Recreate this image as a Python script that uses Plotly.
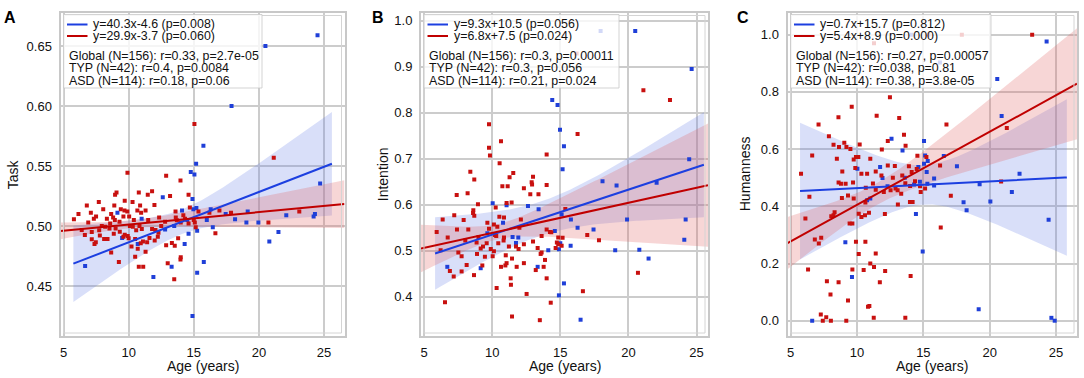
import numpy as np
import plotly.graph_objects as go

W, H = 1084, 378
FONT = "Liberation Sans, Arial, Helvetica, sans-serif"

# ---------------- data ----------------
# Panel A : Task
a_typ_age = [15.74, 15.18, 14.77, 15.05, 12.62, 14.9, 9.14, 14.97, 14.1, 11.0,
             16.3, 17.45, 18.17, 19.14, 19.04, 19.96, 22.1, 24.2, 24.3, 24.7,
             21.5, 20.8, 16.46, 15.26, 14.6, 14.3, 10.7, 13.3, 11.9, 6.66,
             15.77, 15.26, 14.9, 17.9, 20.5, 24.5, 12.8, 14.5, 13.5, 15.2, 9.5, 16.0]
a_typ_val = [0.567, 0.552, 0.545, 0.543, 0.524, 0.5225, 0.511, 0.514, 0.513, 0.506,
             0.514, 0.510, 0.5056, 0.512, 0.503, 0.503, 0.509, 0.508, 0.510, 0.5355,
             0.495, 0.487, 0.499, 0.496, 0.4936, 0.485, 0.485, 0.466, 0.4575, 0.4667,
             0.470, 0.461, 0.425, 0.600, 0.650, 0.659, 0.497, 0.505, 0.500, 0.515, 0.490, 0.505]
a_asd_age = [15.05, 21.14, 9.91, 12.88, 13.98, 9.07, 8.96, 10.78, 11.8, 11.47,
             13.18, 14.6, 7.71, 9.7, 10.3, 6.79, 8.05, 9.4, 9.68, 10.88,
             10.67, 11.3, 10.96, 11.98, 13.6, 14.7, 15.36, 16.2, 16.97, 17.86,
             23.1, 20.73, 6.15, 5.8, 7.33, 7.1, 8.66, 8.94, 9.3, 10.04,
             10.1, 9.6, 9.9, 8.81, 8.33, 7.94, 8.2, 8.58, 8.53, 7.74,
             7.17, 6.4, 6.64, 8.86, 9.32, 9.7, 9.93, 10.32, 10.58, 10.83,
             11.01, 11.8, 12.06, 12.34, 12.29, 12.24, 12.8, 12.88, 13.32, 13.54,
             13.7, 13.62, 14.0, 14.33, 14.6, 15.0, 15.15, 13.8, 14.0, 13.98,
             13.0, 13.5, 10.5, 10.78, 11.12, 9.25, 8.66, 10.22, 10.7, 11.1,
             11.3, 10.93, 11.42, 7.38, 7.48, 7.17, 7.79, 8.12, 8.38, 9.6,
             10.0, 10.5, 11.6, 16.66, 15.08, 6.9, 8.9, 12.5, 11.5, 9.0,
             12.0, 14.2, 7.5, 10.4]
a_asd_val = [0.585, 0.557, 0.5444, 0.542, 0.538, 0.528, 0.526, 0.528, 0.529, 0.526,
             0.525, 0.526, 0.520, 0.521, 0.520, 0.517, 0.514, 0.514, 0.513, 0.517,
             0.513, 0.513, 0.511, 0.5175, 0.512, 0.5155, 0.512, 0.511, 0.513, 0.511,
             0.512, 0.503, 0.510, 0.5056, 0.506, 0.511, 0.510, 0.505, 0.5036, 0.508,
             0.500, 0.508, 0.512, 0.507, 0.506, 0.500, 0.4994, 0.502, 0.498, 0.4964,
             0.495, 0.4967, 0.4925, 0.4936, 0.4953, 0.4928, 0.4917, 0.4994, 0.4964, 0.500,
             0.4975, 0.4975, 0.4967, 0.507, 0.4944, 0.491, 0.5036, 0.484, 0.4858, 0.4836,
             0.5047, 0.507, 0.503, 0.506, 0.502, 0.505, 0.499, 0.4897, 0.474, 0.472,
             0.469, 0.4556, 0.4744, 0.466, 0.466, 0.470, 0.478, 0.483, 0.481, 0.487,
             0.4786, 0.4856, 0.4864, 0.485, 0.4864, 0.4889, 0.492, 0.4892, 0.4892, 0.491,
             0.4897, 0.4892, 0.490, 0.494, 0.503, 0.503, 0.517, 0.500, 0.505, 0.498,
             0.488, 0.509, 0.508, 0.505]

# Panel B : Intention
b_typ_age = [14.98, 15.27, 15.17, 18.1, 19.13, 22.07, 24.46, 24.2, 24.1, 19.9,
             15.78, 16.27, 17.44, 15.1, 13.41, 12.63, 11.06, 10.04, 10.8, 9.65,
             11.92, 11.75, 14.6, 15.0, 15.76, 14.9, 14.12, 19.03, 20.8, 21.48,
             13.34, 9.16, 6.71, 15.27, 14.9, 16.49, 17.96, 20.5, 24.64, 14.41, 14.8, 11.5]
b_typ_val = [0.763, 0.727, 0.677, 0.651, 0.642, 0.648, 0.699, 0.568, 0.524, 0.568,
             0.568, 0.550, 0.546, 0.579, 0.590, 0.597, 0.599, 0.603, 0.561, 0.538,
             0.529, 0.517, 0.543, 0.516, 0.511, 0.503, 0.501, 0.501, 0.502, 0.483,
             0.465, 0.462, 0.465, 0.429, 0.403, 0.350, 0.978, 0.978, 0.895, 0.828, 0.817, 0.530]
b_asd_age = [9.77, 16.2, 21.1, 23.05, 16.27, 9.77, 9.84, 10.65, 14.0, 10.55,
             11.55, 8.4, 8.69, 11.28, 11.14, 10.75, 13.0, 12.9, 12.93, 12.33,
             14.0, 12.8, 13.4, 7.4, 8.2, 8.96, 8.62, 8.69, 8.6, 10.26,
             11.06, 11.43, 15.37, 6.37, 7.22, 7.91, 8.25, 9.65, 9.77, 10.13,
             10.38, 10.53, 10.87, 10.87, 12.11, 10.2, 7.42, 6.74, 5.93, 6.22,
             8.03, 8.86, 9.16, 9.33, 9.6, 9.9, 10.13, 10.3, 10.45, 10.84,
             11.23, 11.75, 11.94, 12.33, 13.34, 13.56, 13.63, 14.0, 14.24, 14.34,
             14.85, 15.17, 14.75, 14.85, 15.1, 14.66, 13.63, 16.98, 17.84, 7.52,
             7.76, 8.13, 6.9, 7.18, 7.76, 8.67, 8.89, 9.28, 9.47, 10.04,
             10.65, 10.97, 11.06, 11.36, 11.38, 11.46, 11.8, 12.33, 13.2, 13.78,
             13.88, 14.0, 10.33, 12.53, 14.3, 11.46, 13.5, 6.54, 16.66, 20.7,
             9.0, 12.0, 11.0, 13.0]
b_asd_val = [0.775, 0.929, 0.849, 0.828, 0.754, 0.724, 0.707, 0.738, 0.709, 0.690,
             0.669, 0.672, 0.655, 0.660, 0.640, 0.640, 0.661, 0.649, 0.644, 0.636,
             0.643, 0.623, 0.623, 0.621, 0.625, 0.601, 0.588, 0.576, 0.582, 0.594,
             0.604, 0.605, 0.591, 0.568, 0.577, 0.567, 0.546, 0.561, 0.548, 0.557,
             0.552, 0.574, 0.572, 0.529, 0.568, 0.534, 0.546, 0.529, 0.541, 0.501,
             0.522, 0.518, 0.505, 0.509, 0.516, 0.504, 0.499, 0.532, 0.516, 0.522,
             0.509, 0.509, 0.504, 0.514, 0.506, 0.493, 0.496, 0.546, 0.541, 0.540,
             0.529, 0.528, 0.518, 0.514, 0.511, 0.506, 0.532, 0.534, 0.523, 0.496,
             0.488, 0.469, 0.456, 0.444, 0.455, 0.447, 0.493, 0.468, 0.487, 0.488,
             0.465, 0.468, 0.473, 0.440, 0.426, 0.483, 0.465, 0.473, 0.458, 0.465,
             0.480, 0.440, 0.419, 0.406, 0.387, 0.357, 0.349, 0.388, 0.412, 0.452,
             0.530, 0.550, 0.490, 0.520]

# Panel C : Humanness
c_typ_age = [12.6, 13.43, 15.05, 15.05, 15.13, 15.33, 15.25, 16.54, 15.81, 15.81,
             14.62, 15.3, 17.53, 11.74, 11.92, 10.03, 10.76, 11.0, 14.3, 18.03,
             18.26, 19.24, 20.05, 21.67, 22.25, 24.44, 14.44, 14.95, 9.12, 9.62,
             19.17, 24.65, 24.9, 6.62, 14.12, 16.25, 20.57, 24.29, 20.9, 14.74, 13.6, 12.3]
c_typ_val = [0.636, 0.595, 0.628, 0.549, 0.578, 0.558, 0.520, 0.576, 0.497, 0.473,
             0.537, 0.479, 0.540, 0.537, 0.499, 0.531, 0.421, 0.427, 0.476, 0.414,
             0.386, 0.477, 0.417, 0.450, 0.514, 0.353, 0.373, 0.242, 0.274, 0.153,
             0.040, 0.010, 0.0, 0.0, 1.0, 0.903, 0.845, 0.976, 0.716, 0.486, 0.50, 0.47]
c_asd_age = [7.1, 16.74, 21.29, 7.88, 13.54, 12.32, 8.23, 8.64, 9.04, 9.2,
             10.2, 11.87, 13.66, 6.62, 8.48, 9.92, 10.1, 9.75, 11.0, 12.32,
             12.85, 11.84, 11.41, 8.89, 5.78, 10.33, 10.76, 9.87, 14.55, 13.91,
             14.12, 15.23, 13.41, 13.64, 14.37, 14.8, 15.13, 14.75, 14.0, 16.26,
             17.07, 16.31, 20.86, 8.61, 8.79, 9.14, 9.7, 8.86, 9.75, 9.32,
             10.66, 12.53, 12.9, 13.06, 13.33, 13.08, 12.02, 11.41, 10.63, 10.9,
             10.13, 10.33, 10.6, 12.1, 13.99, 14.19, 8.31, 8.23, 8.06, 9.44,
             9.65, 6.41, 6.11, 6.82, 7.12, 7.3, 9.92, 10.63, 10.13, 11.41,
             11.0, 11.28, 12.12, 9.65, 10.5, 6.31, 7.73, 8.61, 8.0, 9.32,
             11.72, 14.04, 10.83, 10.93, 7.27, 7.68, 7.42, 8.03, 9.19, 11.26,
             13.64, 23.2, 17.9, 15.37, 11.28, 8.6, 9.6, 11.48, 12.48, 13.18,
             12.7, 14.5, 11.2, 9.5]
c_asd_val = [0.686, 0.686, 0.674, 0.645, 0.650, 0.628, 0.615, 0.607, 0.622, 0.607,
             0.616, 0.599, 0.612, 0.578, 0.566, 0.572, 0.572, 0.564, 0.566, 0.543,
             0.541, 0.508, 0.522, 0.522, 0.514, 0.514, 0.514, 0.534, 0.577, 0.540,
             0.520, 0.572, 0.508, 0.481, 0.488, 0.450, 0.462, 0.470, 0.471, 0.543,
             0.437, 0.326, 0.487, 0.483, 0.479, 0.479, 0.483, 0.429, 0.427, 0.438,
             0.465, 0.456, 0.462, 0.456, 0.444, 0.406, 0.450, 0.458, 0.413, 0.377,
             0.374, 0.363, 0.369, 0.373, 0.415, 0.415, 0.379, 0.369, 0.365, 0.340,
             0.340, 0.433, 0.357, 0.284, 0.270, 0.290, 0.276, 0.276, 0.233, 0.235,
             0.200, 0.188, 0.174, 0.179, 0.177, 0.179, 0.138, 0.134, 0.092, 0.071,
             0.134, 0.156, 0.049, 0.051, 0.022, 0.012, 0.0, 0.0, 0.0, 0.010,
             0.010, 1.0, 1.0, 1.0, 0.970, 0.711, 0.748, 0.717, 0.781, 0.709,
             0.50, 0.53, 0.48, 0.60]

panel_letters = ["A", "B", "C"]
y_titles = ["Task", "Intention", "Humanness"]
x_title = "Age (years)"
x_ticks = [5, 10, 15, 20, 25]
y_ticks = [[0.45, 0.50, 0.55, 0.60, 0.65],
           [0.4, 0.5, 0.6, 0.7, 0.8, 0.9, 1.0],
           [0.0, 0.2, 0.4, 0.6, 0.8, 1.0]]
y_tickformat = [".2f", ".1f", ".1f"]
eq_typ = ["y=40.3x-4.6 (p=0.008)", "y=9.3x+10.5 (p=0.056)", "y=0.7x+15.7 (p=0.812)"]
eq_asd = ["y=29.9x-3.7 (p=0.060)", "y=6.8x+7.5 (p=0.024)", "y=5.4x+8.9 (p=0.000)"]
stats = [["Global (N=156): r=0.33, p=2.7e-05", "TYP (N=42): r=0.4, p=0.0084", "ASD (N=114): r=0.18, p=0.06"],
         ["Global (N=156): r=0.3, p=0.00011", "TYP (N=42): r=0.3, p=0.056", "ASD (N=114): r=0.21, p=0.024"],
         ["Global (N=156): r=0.27, p=0.00057", "TYP (N=42): r=0.038, p=0.81", "ASD (N=114): r=0.38, p=3.8e-05"]]

# ---------------- layout geometry (pixels) ----------------
px_x = [(60.5, 344.5), (421.0, 708.0), (787.5, 1077.0)]
px_y = (12.5, 336.0)
x_ranges = [(4.77, 26.57), (4.78, 25.84), (4.76, 26.58)]
y_ranges = [(0.4083, 0.678), (0.3146, 1.018), (-0.0535, 1.0776)]
box_right = [262.0, 619.0, 991.0]
ytitle_x = [13.0, 383.0, 745.0]
letter_x = [10.0, 378.0, 743.0]

BLUE_PT = "#1f3fd8"
RED_PT = "#c8100f"
BLUE_LN = "#1c3fe0"
RED_LN = "#c00000"
BLUE_BAND = "rgba(95,120,230,0.24)"
RED_BAND = "rgba(225,95,95,0.26)"
GRID = "#cccccc"

T_TYP, T_ASD = 2.021, 1.981  # t quantiles (df 40, df 112)


def fx(p):
    return p / W


def fy(p):
    return 1 - p / H


def regline(ages, vals, lo, hi, t):
    """OLS fit with a heteroscedasticity-robust (HC2) 95% confidence band."""
    x = np.asarray(ages, float)
    y = np.asarray(vals, float)
    X = np.column_stack([np.ones_like(x), x])
    XtXi = np.linalg.inv(X.T @ X)
    beta = XtXi @ X.T @ y
    e = y - X @ beta
    h = np.sum((X @ XtXi) * X, axis=1)
    om = e ** 2 / (1 - h)
    cov = XtXi @ (X.T * om) @ X @ XtXi
    xs = np.linspace(lo, hi, 120)
    Xs = np.column_stack([np.ones_like(xs), xs])
    yh = Xs @ beta
    se = np.sqrt(np.sum((Xs @ cov) * Xs, axis=1))
    return xs, yh, yh - t * se, yh + t * se


fig = go.Figure()
groups = [(a_typ_age, a_typ_val, a_asd_age, a_asd_val),
          (b_typ_age, b_typ_val, b_asd_age, b_asd_val),
          (c_typ_age, c_typ_val, c_asd_age, c_asd_val)]

shapes = []
annotations = []

for i, (ta, tv, aa, av) in enumerate(groups):
    xa = "x" if i == 0 else f"x{i+1}"
    ya = "y" if i == 0 else f"y{i+1}"
    tmin, tmax = min(ta), max(ta)
    pad = 0.05 * (tmax - tmin)
    bx, by, blo, bhi = regline(ta, tv, tmin - pad, tmax + pad, T_TYP)
    rx, ry, rlo, rhi = regline(aa, av, x_ranges[i][0], x_ranges[i][1], T_ASD)

    for xs, lo, hi, col in [(bx, blo, bhi, BLUE_BAND), (rx, rlo, rhi, RED_BAND)]:
        fig.add_trace(go.Scatter(x=np.concatenate([xs, xs[::-1]]), y=np.concatenate([hi, lo[::-1]]),
                                 fill="toself", fillcolor=col, line=dict(width=0), mode="lines",
                                 hoverinfo="skip", showlegend=False, xaxis=xa, yaxis=ya))
    fig.add_trace(go.Scatter(x=ta, y=tv, mode="markers", marker=dict(symbol="square", size=4, color=BLUE_PT),
                             showlegend=False, xaxis=xa, yaxis=ya))
    fig.add_trace(go.Scatter(x=aa, y=av, mode="markers", marker=dict(symbol="square", size=4, color=RED_PT),
                             showlegend=False, xaxis=xa, yaxis=ya))
    fig.add_trace(go.Scatter(x=bx, y=by, mode="lines", line=dict(color=BLUE_LN, width=2),
                             showlegend=False, xaxis=xa, yaxis=ya))
    fig.add_trace(go.Scatter(x=rx, y=ry, mode="lines", line=dict(color=RED_LN, width=2),
                             showlegend=False, xaxis=xa, yaxis=ya))

    L, R = px_x[i]
    T, B = px_y
    shapes.append(dict(type="rect", xref="paper", yref="paper", x0=fx(L + 3), x1=fx(R - 3), y0=fy(B - 3),
                       y1=fy(T + 3), line=dict(color="#d4d4d4", width=1), layer="above"))
    shapes.append(dict(type="rect", xref="paper", yref="paper", x0=fx(L + 3), x1=fx(box_right[i]),
                       y0=fy(88), y1=fy(T + 2), fillcolor="rgba(255,255,255,0.8)",
                       line=dict(color="rgba(200,200,200,0.8)", width=1), layer="above"))
    for yy, col in [(24.5, BLUE_LN), (36.0, RED_LN)]:
        shapes.append(dict(type="line", xref="paper", yref="paper", x0=fx(L + 6.5), x1=fx(L + 27),
                           y0=fy(yy), y1=fy(yy), line=dict(color=col, width=2), layer="above"))
    for yy, txt in [(24.5, eq_typ[i]), (36.0, eq_asd[i])]:
        annotations.append(dict(x=fx(L + 30.5), y=fy(yy), xref="paper", yref="paper", text=txt,
                                showarrow=False, xanchor="left", yanchor="middle",
                                font=dict(family=FONT, size=12.4, color="#111111")))
    for k, txt in enumerate(stats[i]):
        annotations.append(dict(x=fx(L + 6), y=fy(55.5 + 12.5 * k), xref="paper", yref="paper", text=txt,
                                showarrow=False, xanchor="left", yanchor="middle",
                                font=dict(family=FONT, size=12.4, color="#111111")))
    annotations.append(dict(x=fx(letter_x[i]), y=fy(17), xref="paper", yref="paper",
                            text=f"<b>{panel_letters[i]}</b>", showarrow=False, xanchor="center",
                            yanchor="middle", font=dict(family=FONT, size=16, color="#000000")))
    annotations.append(dict(x=fx((L + R) / 2), y=fy(366), xref="paper", yref="paper", text=x_title,
                            showarrow=False, xanchor="center", yanchor="middle",
                            font=dict(family=FONT, size=14, color="#111111")))
    annotations.append(dict(x=fx(ytitle_x[i]), y=fy((T + B) / 2), xref="paper", yref="paper",
                            text=y_titles[i], textangle=-90, showarrow=False, xanchor="center",
                            yanchor="middle", font=dict(family=FONT, size=14, color="#111111")))

    axcommon = dict(showgrid=True, gridcolor=GRID, gridwidth=1.6, zeroline=False, showline=True,
                    linecolor="#c8c8c8", linewidth=2, mirror=True, ticks="",
                    tickfont=dict(family=FONT, size=13, color="#111111"))
    fig.update_layout(**{
        ("xaxis" if i == 0 else f"xaxis{i+1}"): dict(
            domain=[fx(L), fx(R)], range=list(x_ranges[i]), tickvals=x_ticks, anchor=ya,
            ticklabelstandoff=3, **axcommon),
        ("yaxis" if i == 0 else f"yaxis{i+1}"): dict(
            domain=[fy(B), fy(T)], range=list(y_ranges[i]), tickvals=y_ticks[i],
            tickformat=y_tickformat[i], anchor=xa, ticklabelstandoff=4, **axcommon),
    })

fig.update_layout(width=W, height=H, margin=dict(l=0, r=0, t=0, b=0),
                  paper_bgcolor="white", plot_bgcolor="white", showlegend=False,
                  shapes=shapes, annotations=annotations, font=dict(family=FONT))

fig.write_html("out.html", config={"displayModeBar": False},
               post_script="document.body.style.margin='0px';")
